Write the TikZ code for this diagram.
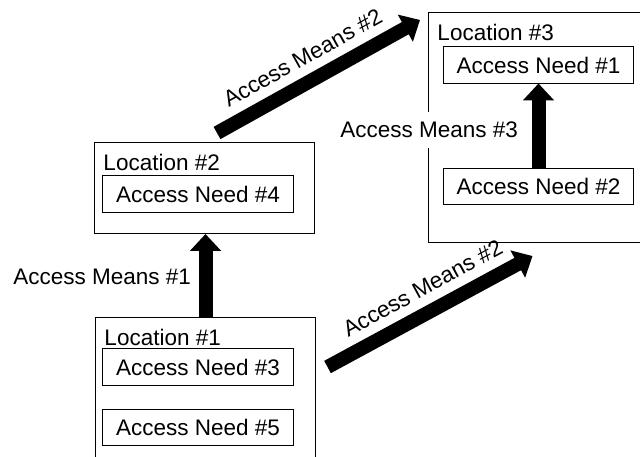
\documentclass[tikz,border=0pt]{standalone}
\usepackage{fontspec}
\setmainfont{Liberation Sans}
\usetikzlibrary{arrows.meta}

\begin{document}
\begin{tikzpicture}[x=0.025cm, y=-0.025cm, line width=0.7pt,
  every node/.style = {font=\fontsize{16}{19}\selectfont},
  locbox/.style = {draw, anchor=north west, inner sep=0, minimum width=5.5cm},
  loclabel/.style = {anchor=north west, inner sep=0},
  needbox/.style = {draw, inner sep=0, minimum width=4.75cm, minimum height=0.9cm},
  means/.style = {line width=0.35cm, -{Triangle[width=0.75cm, length=0.42cm]}}]
  \useasboundingbox (0,0) rectangle (640,457);
  \node[locbox, minimum height=3.9cm] (loc1) at (95,317) {};
  \node[locbox, minimum height=2.275cm] (loc2) at (94,142) {};
  \node[locbox, minimum height=5.75cm] (loc3) at (428,12) {};
  \node[loclabel] at ([shift={(9,12)}]loc1.north west) {Location \#1};
  \node[loclabel] at ([shift={(9,12)}]loc2.north west) {Location \#2};
  \node[loclabel] at ([shift={(9,12)}]loc3.north west) {Location \#3};
  \node[needbox] (an3) at (198,367) {Access Need \#3};
  \node[needbox] (an5) at (198,427.5) {Access Need \#5};
  \node[needbox] (an4) at (198,194) {Access Need \#4};
  \node[needbox] (an1) at (538.5,65) {Access Need \#1};
  \node[needbox] (an2) at (538.5,186.5) {Access Need \#2};
  \draw[means] (loc1.north) -- (loc1.north |- loc2.south)
    node[pos=0.48, left=2pt] {Access Means \#1};
  \draw[means] ([shift={(12.5,-9)}]loc2.north) -- ([shift={(-8,8)}]loc3.north west)
    node[pos=0.48, sloped, above, inner sep=6.5pt] {Access Means \#2};
  \draw[means] ([shift={(34,0)}]an3.east) -- ([shift={(-6,13)}]loc3.south)
    node[pos=0.52, sloped, above, inner sep=6.5pt] {Access Means \#2};
  \draw[means] (an2.north) -- (an1.south)
    node[pos=0.45, left=5.6pt, fill=white, inner xsep=4pt, inner ysep=7pt] {Access Means \#3};
\end{tikzpicture}
\end{document}
